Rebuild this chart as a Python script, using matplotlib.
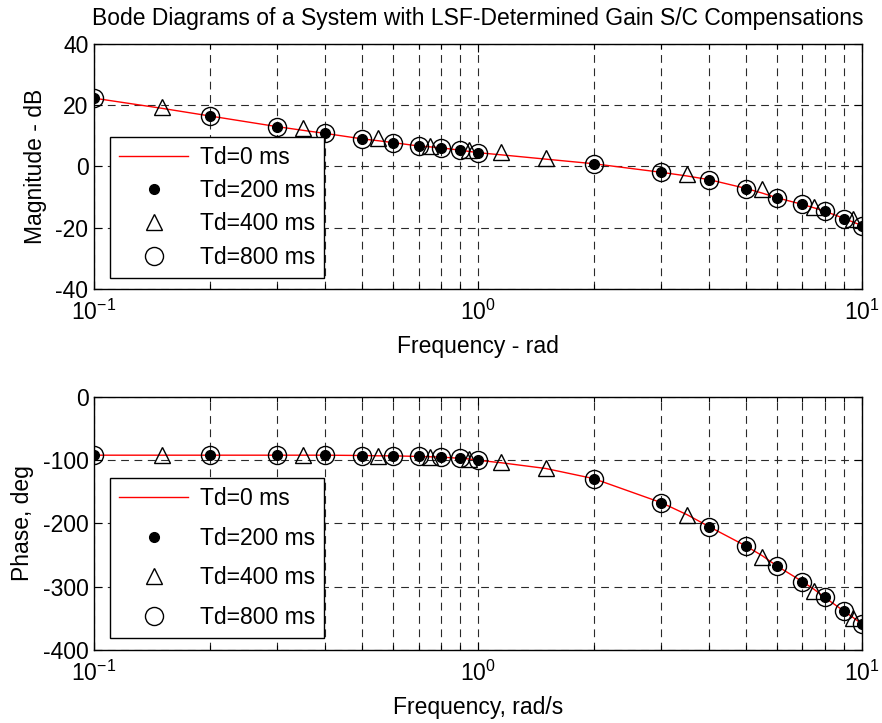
import matplotlib
matplotlib.use("Agg")
import matplotlib.pyplot as plt
from matplotlib.ticker import LogLocator, NullFormatter, FixedLocator

plt.rcParams['font.family'] = ['Liberation Sans', 'DejaVu Sans']
plt.rcParams['mathtext.fontset'] = 'custom'
plt.rcParams['mathtext.rm'] = 'Liberation Sans'
plt.rcParams['mathtext.it'] = 'Liberation Sans'
plt.rcParams['mathtext.default'] = 'regular'
plt.rcParams['axes.unicode_minus'] = False

# Frequencies (rad/s)
freq_line = [0.1, 0.15, 0.2, 0.3, 0.35, 0.4, 0.5, 0.55, 0.6, 0.7, 0.75, 0.8, 0.9, 0.95,
             1.0, 1.15, 1.5, 2, 3, 3.5, 4, 5, 5.5, 6, 7, 7.5, 8, 9, 9.5, 10]
freq_grid = [0.1, 0.2, 0.3, 0.4, 0.5, 0.6, 0.7, 0.8, 0.9, 1.0, 2, 3, 4, 5, 6, 7, 8, 9, 10]
freq_mid = [0.15, 0.35, 0.55, 0.75, 0.95, 1.15, 1.5, 3.5, 5.5, 7.5, 9.5]

# Magnitude (dB)
mag_td0 = [22.3, 19.0, 16.5, 13.0, 11.8, 10.8, 9.0, 8.4, 7.8, 6.7, 6.4, 6.1, 5.3, 4.9,
           4.5, 3.8, 2.4, 0.9, -1.9, -3.1, -4.3, -7.2, -8.7, -10.2, -12.4, -13.5, -14.6,
           -17.0, -18.2, -19.3]
mag_td200 = [22.3, 16.5, 13.0, 10.8, 9.0, 7.8, 6.7, 6.1, 5.3, 4.5,
             0.9, -1.9, -4.3, -7.2, -10.2, -12.4, -14.6, -17.0, -19.3]
mag_td400 = [19.5, 12.5, 9.2, 6.8, 5.3, 4.6, 2.7, -2.5, -7.5, -13.3, -17.2]
mag_td800 = [22.3, 16.5, 13.0, 10.8, 9.0, 7.8, 6.7, 6.1, 5.3, 4.5,
             0.9, -1.9, -4.3, -7.2, -10.2, -12.4, -14.6, -17.0, -19.3]

# Phase (deg)
ph_td0 = [-92, -92, -92, -92, -92, -92, -92.5, -93, -93, -94, -94.5, -95, -97, -98,
          -100, -104, -113, -129, -167, -186, -205, -236, -251, -267, -292, -304, -317,
          -339, -349, -359]
ph_td200 = [-92, -92, -92, -92, -92.5, -93, -94, -95, -97, -100,
            -129, -167, -205, -236, -267, -292, -317, -339, -359]
ph_td400 = [-92, -92, -93, -94.5, -98, -102, -112, -186, -253, -306, -349]
ph_td800 = [-92, -92, -92, -92, -92.5, -93, -94, -95, -97, -100,
            -129, -167, -205, -236, -267, -292, -317, -339, -359]

labels = ['Td=0 ms', 'Td=200 ms', 'Td=400 ms', 'Td=800 ms']
xtick_vals = [0.1, 1, 10]
xtick_text = [r'$10^{-1}$', r'$10^{0}$', r'$10^{1}$']

FS = 16.5

fig = plt.figure(figsize=(8.82, 7.23), dpi=100)
ax1 = fig.add_axes([0.1066, 0.6003, 0.8707, 0.3389])
ax2 = fig.add_axes([0.1066, 0.1010, 0.8707, 0.3499])


def draw(ax, yl, y200, y400, y800, ylim, yticks, ylabel, xlabel, leg_y, leg_sp):
    ax.plot(freq_line, yl, color='red', lw=1.0, label=labels[0], zorder=3)
    ax.plot(freq_grid, y200, ls='none', marker='o', ms=7, mfc='black', mec='black',
            label=labels[1], zorder=4)
    ax.plot(freq_mid, y400, ls='none', marker='^', ms=12, mfc='none', mec='black',
            mew=1.0, label=labels[2], zorder=4)
    ax.plot(freq_grid, y800, ls='none', marker='o', ms=13, mfc='none', mec='black',
            mew=1.0, label=labels[3], zorder=4)
    ax.set_xscale('log')
    ax.set_xlim(0.1, 10)
    ax.set_ylim(*ylim)
    ax.set_yticks(yticks)
    ax.set_yticklabels([str(v) for v in yticks])
    ax.xaxis.set_major_locator(FixedLocator(xtick_vals))
    ax.set_xticklabels(xtick_text)
    ax.xaxis.set_minor_locator(LogLocator(base=10, subs=range(2, 10)))
    ax.xaxis.set_minor_formatter(NullFormatter())
    ax.tick_params(which='both', direction='in', top=True, right=True,
                   labelsize=FS, width=0.8, color='black')
    ax.tick_params(which='major', length=6)
    ax.tick_params(which='minor', length=3.5)
    ax.tick_params(axis='x', which='major', pad=8)
    ax.tick_params(axis='y', which='major', pad=4)
    ax.grid(True, which='major', axis='both', ls=(0, (7, 5)), color='#2a2a2a', lw=0.8)
    ax.grid(True, which='minor', axis='x', ls=(0, (7, 5)), color='#2a2a2a', lw=0.8)
    ax.set_axisbelow(True)
    for s in ax.spines.values():
        s.set_linewidth(1.0)
        s.set_color('black')
    ax.set_ylabel(ylabel, fontsize=FS, labelpad=6)
    ax.set_xlabel(xlabel, fontsize=FS, labelpad=7)
    leg = ax.legend(loc='lower left', bbox_to_anchor=(0.021, leg_y), fontsize=FS,
                    frameon=True, fancybox=False, framealpha=1, edgecolor='black',
                    handlelength=3.0, handletextpad=0.5, labelspacing=leg_sp,
                    borderpad=0.4, borderaxespad=0)
    leg.get_frame().set_linewidth(1.0)


draw(ax1, mag_td0, mag_td200, mag_td400, mag_td800, (-40, 40), [-40, -20, 0, 20, 40],
     'Magnitude - dB', 'Frequency - rad', 0.045, 0.45)
draw(ax2, ph_td0, ph_td200, ph_td400, ph_td800, (-400, 0), [-400, -300, -200, -100, 0],
     'Phase, deg', 'Frequency, rad/s', 0.047, 0.72)

ax1.set_title('Bode Diagrams of a System with LSF-Determined Gain S/C Compensations',
              fontsize=FS, pad=14)

fig.savefig('out.png', dpi=100)
